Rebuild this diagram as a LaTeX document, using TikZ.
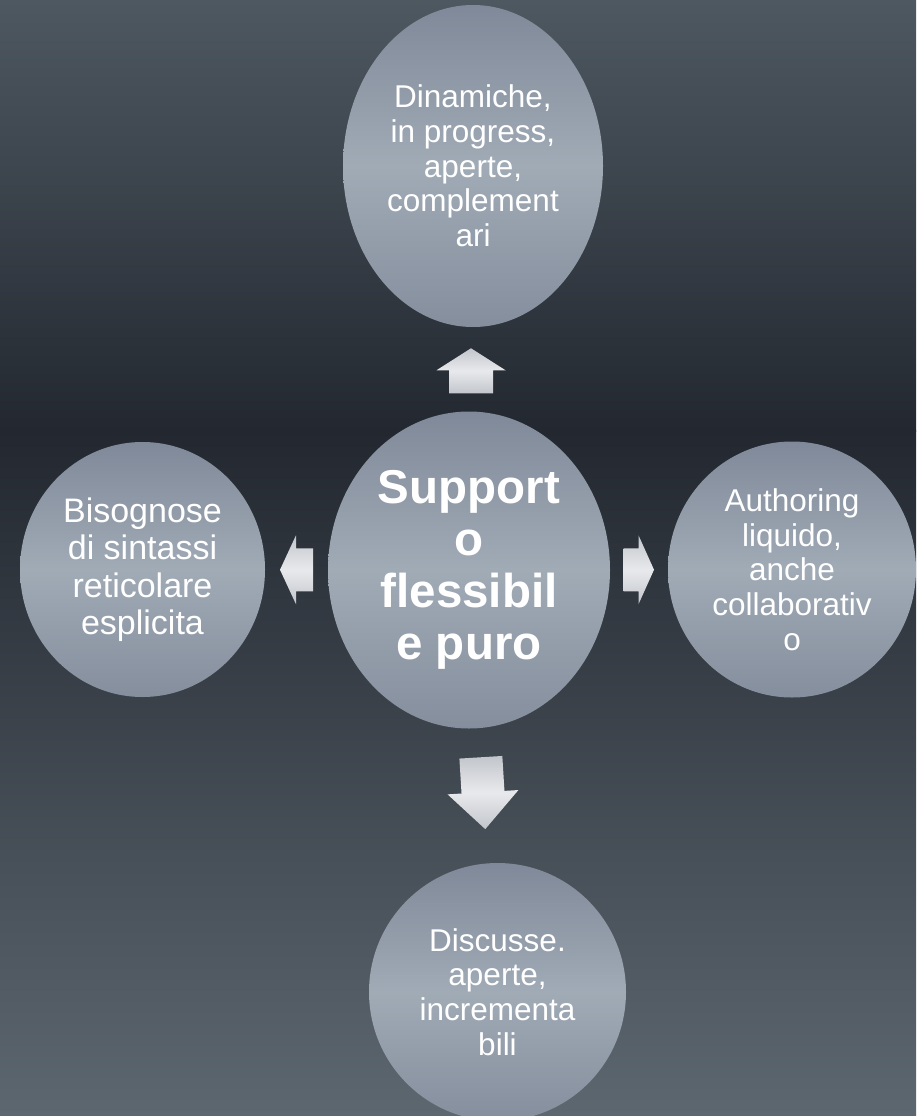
\documentclass[tikz,border=0pt]{standalone}
\usepackage{fontspec}
\setmainfont{Liberation Sans}
\usepackage{tikz}
\usepackage{xcolor}
\usetikzlibrary{shapes.geometric, calc}

\definecolor{bgtop}{HTML}{4E5861}
\definecolor{bgdark}{HTML}{232830}
\definecolor{bgbot}{HTML}{5D6770}
\definecolor{bubtop}{HTML}{7F8999}
\definecolor{bubmid}{HTML}{A1ABB6}
\definecolor{bubbot}{HTML}{848E9D}
\definecolor{arrdark}{HTML}{C2C6CC}
\definecolor{arrlight}{HTML}{E8E9EC}

\tikzset{
	bubble/.style={ellipse, inner sep=0pt, align=center, text=white,
		top color=bubtop, bottom color=bubbot, middle color=bubmid,
		font=\fontsize{31.5}{34.7}\selectfont},
	blockarrow/.style={top color=arrdark, bottom color=arrdark, middle color=arrlight}
}

\begin{document}
\begin{tikzpicture}[x=1pt, y=-1pt]
		\useasboundingbox (0, 0) rectangle (916, 1116);
		% background
		\shade[top color=bgtop, bottom color=bgdark] (0, 0) rectangle (916, 431);
		\shade[top color=bgdark, bottom color=bgbot] (0, 430) rectangle (916, 1116);
		% bubbles
		\node[bubble, minimum width=282pt, minimum height=317pt,
			font=\fontsize{47.5}{52}\selectfont\bfseries] (hub) at (469, 570) {Support\\o\\flessibil\\e puro};
		\node[bubble, minimum width=260pt, minimum height=322pt] (dyn) at (473, 166) {Dinamiche,\\in progress,\\aperte,\\complement\\ari};
		\node[bubble, minimum width=245pt, minimum height=255pt,
			font=\fontsize{34}{37.5}\selectfont] (net) at (142.5, 569.5) {Bisognose\\di sintassi\\reticolare\\esplicita};
		\node[bubble, minimum width=248pt, minimum height=256pt] (auth) at (792, 569.5) {Authoring\\liquido,\\anche\\collaborativ\\o};
		\node[bubble, minimum width=257pt, minimum height=258pt] (disc) at (497.5, 992) {Discusse.\\aperte,\\incrementa\\bili};
		% arrows
		\coordinate (up) at ($(hub.north)!0.5!(dyn.south)$);
		\coordinate (lt) at ($(hub.west)!0.5!(net.east)$);
		\coordinate (rt) at ($(hub.east)!0.5!(auth.west)$);
		\coordinate (dn) at ($(hub.south)!0.5!(disc.north)$);
		\shade[blockarrow] (up) ++(-22, 24) -- ++(0, -23) -- ++(-12.5, 0) -- ++(34.5, -22) -- ++(34.5, 22) -- ++(-12.5, 0) -- ++(0, 23) -- cycle;
		\shade[blockarrow] (lt) ++(16.5, -21.5) -- ++(-17, 0) -- ++(0, -13) -- ++(-16, 34.5) -- ++(16, 34.5) -- ++(0, -13) -- ++(17, 0) -- cycle;
		\shade[blockarrow] (rt) ++(-15.5, -21.5) -- ++(15, 0) -- ++(0, -13) -- ++(15.5, 34.5) -- ++(-15.5, 34.5) -- ++(0, -13) -- ++(-15, 0) -- cycle;
		\shade[blockarrow, rotate around={3.5:(dn)}] (dn) ++(-21.5, -38.5) -- ++(0, 35) -- ++(-14, 0) -- ++(35.5, 37) -- ++(35.5, -37) -- ++(-14, 0) -- ++(0, -35) -- cycle;
	\end{tikzpicture}
\end{document}
